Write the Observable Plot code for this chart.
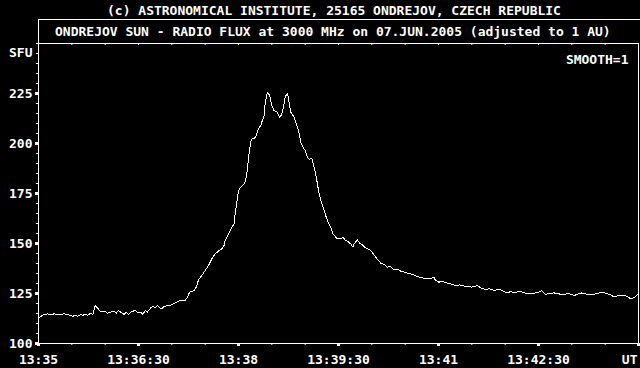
<!DOCTYPE html>
<html>
<head>
<meta charset="utf-8">
<script src="https://cdn.jsdelivr.net/npm/d3@7"></script>
<script src="https://cdn.jsdelivr.net/npm/@observablehq/plot@0.6"></script>
<style>
  html, body { margin: 0; padding: 0; background: #000; }
  #wrap { position: relative; width: 640px; height: 368px; background: #000; overflow: hidden;
          font-family: "DejaVu Sans Mono", monospace; font-weight: bold; font-size: 13px; color: #fff; }
  #head { position: relative; width: 640px; height: 43px; }
  #t1 { position: absolute; left: 107px; top: 4px; line-height: 13px; white-space: pre; }
  #box { position: absolute; left: 38px; top: 19px; width: 610px; height: 24px;
         border-left: 1px solid #fff; border-top: 1px solid #fff; box-sizing: border-box; }
  #t2 { position: absolute; left: 55px; top: 25px; line-height: 13px; white-space: pre; }
  #chart svg { display: block; }
</style>
</head>
<body>
<div id="wrap">
  <div id="head">
    <div id="t1"></div>
    <div id="box"></div>
    <div id="t2"></div>
  </div>
  <div id="chart"></div>
</div>
<script>
const title1 = "(c) ASTRONOMICAL INSTITUTE, 25165 ONDREJOV, CZECH REPUBLIC";
const title2 = "ONDREJOV SUN - RADIO FLUX at 3000 MHz on 07.JUN.2005 (adjusted to 1 AU)";
const yUnit = "SFU";
const smoothLabel = "SMOOTH=1";

// seconds after 13:35:00 UT
const secs = [0,2,5,8,11,14,18,23,26,29,31,33,35,38,40,42,44,47,49,51,53,55,57,60,62,65,68,70,72,74,77,79,81,84,87,89,92,94,96,98,
  101,103,105,107,109,111,113,116,118,120,123,126,129,132,134,136,138,140,142,144,147,150,153,156,159,162,165,167,168,171,174,176,177,179,
  180,182,185,186,188,189,191,192,194,196,198,200,201,203,204,206,208,210,212,215,217,219,221,222,224,225,227,230,232,234,236,238,240,
  242,244,246,248,250,252,254,256,258,260,263,265,267,269,272,274,276,279,281,283,284,287,289,291,294,297,299,303,308,311,314,317,320,
  323,326,329,332,335,338,341,344,347,350,353,356,357,360,364,368,372,375,379,383,387,390,395,398,402,406,410,413,416,419,422,425,428,
  431,434,438,443,447,450,453,456,460,464,468,473,477,482,486,489,494,498,503,507,511,515,518,522,527,530,533,537,540];
const sfu = [112.8,113.5,114.5,114.8,114.5,114.8,114.5,114.8,114.5,114,113.5,114.3,113.5,114.5,114,114.8,114,115.2,114.5,119,117.8,116.5,115.7,116.2,115.2,115.7,116.2,115.2,116.5,115.7,114.5,115.7,114.5,116,116.5,115.7,115.7,114.5,116.5,115.7,
  117.8,118.5,117.8,119,117.8,117.3,118.5,119,119,119.5,120.2,121.2,121.5,121.5,123.2,125.7,126,126.5,128.2,131.8,134,136.5,139,142.3,144.8,146.2,147.3,149,151.5,154.8,158.2,159.8,164.8,172.3,
  176.5,178.2,179.8,180.7,186.5,193.2,200.7,202.3,202.3,204,207.3,209,210.7,214,219.8,225.7,224,219,216.5,215.7,212.8,214.8,219.8,223.2,225.2,222.3,215.7,213.2,209.8,206.5,200.7,198.2,196.5,
  193.2,192,192.8,188.2,183.2,176.5,171.5,168.2,164.8,161.5,158.2,154.8,153.5,152.3,152.3,153.2,151.8,150.7,149.8,148.2,149.8,151.8,150.2,149.6,148,147.2,146.5,143.5,140.2,139.5,138.2,138.5,136.8,
  137.2,136.2,135.8,135.2,134.8,134.2,133.5,133,132.6,132.3,132.5,133,131.8,130.7,130.9,130.2,129.6,129,129.3,128.7,128.4,128.2,129,127.8,127,127.4,126.5,127,126.8,126,125.3,126,125.3,
  125.8,126,125.2,124.8,125.3,125.5,126.5,124.5,125,125.3,124.8,124.5,125,124,124.8,125.3,124.6,124.5,125,125.7,125,124.3,123.2,124,124,123.5,122.3,123.2,125];

const xDomain = [0, 540];
const yDomain = [100, 250];
const xTickValues = [0, 90, 180, 270, 360, 450, 540];
const xTickLabels = ["13:35", "13:36:30", "13:38", "13:39:30", "13:41", "13:42:30", "UT"];
const xMinor = d3.range(0, 541, 30);
const yTickValues = [100, 125, 150, 175, 200, 225];
const yMinor = d3.range(100, 251, 5);

document.getElementById("t1").textContent = title1;
document.getElementById("t2").textContent = title2;

const data = secs.map((s, i) => ({s, v: sfu[i]}));
const font = "'DejaVu Sans Mono', monospace";

const chart = Plot.plot({
  width: 640,
  height: 325,
  marginTop: 0,
  marginBottom: 25,
  marginLeft: 38,
  marginRight: 2,
  style: {background: "#000", color: "#fff", fontFamily: font, fontSize: "13px", fontWeight: "bold"},
  x: {domain: xDomain, label: null},
  y: {domain: yDomain, label: null},
  marks: [
    Plot.axisY({ticks: yMinor, tickSize: 2, tickFormat: () => "", stroke: "#fff"}),
    Plot.axisY({ticks: yTickValues.filter(d => d < 250), tickSize: 3, strokeWidth: 3, tickPadding: 3, fontSize: 13, fill: "#fff", stroke: "#fff"}),
    Plot.axisX({ticks: xMinor, tickSize: 2, tickFormat: () => "", stroke: "#fff"}),
    Plot.axisX({ticks: xTickValues, tickSize: 3, strokeWidth: 3, tickPadding: 8, fontSize: 13, fill: "#fff", stroke: "#fff",
      tickFormat: d => { const i = xTickValues.indexOf(d); return i === xTickValues.length - 1 ? "" : xTickLabels[i]; }}),
    Plot.ruleX(xMinor, {y1: yDomain[1], y2: yDomain[1] - 1, stroke: "#fff"}),
    Plot.frame({stroke: "#fff"}),
    Plot.line(data, {x: "s", y: "v", stroke: "#fff", strokeWidth: 1, shapeRendering: "crispEdges"}),
    Plot.text([yUnit], {frameAnchor: "top-left", dx: -6, dy: 9, textAnchor: "end", lineAnchor: "middle", fill: "#fff", fontSize: 13}),
    Plot.text([smoothLabel], {frameAnchor: "top-right", dx: -10, dy: 16, textAnchor: "end", lineAnchor: "middle", fill: "#fff", fontSize: 13}),
    Plot.text([xTickLabels[xTickLabels.length - 1]], {x: () => xTickValues[xTickValues.length - 1], frameAnchor: "bottom", dy: 11, dx: -1,
      textAnchor: "end", lineAnchor: "top", fill: "#fff", fontSize: 13})
  ]
});
document.getElementById("chart").appendChild(chart);
</script>
</body>
</html>
